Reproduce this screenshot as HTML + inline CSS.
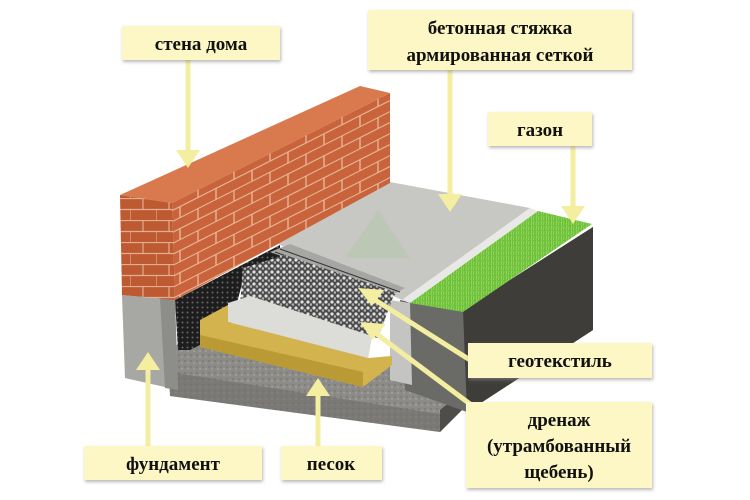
<!DOCTYPE html>
<html><head><meta charset="utf-8"><style>
html,body{margin:0;padding:0;background:#fff;}
svg{display:block}
text{font-family:"Liberation Serif",serif;font-weight:bold;fill:#111;}
</style></head><body>
<svg width="750" height="500" viewBox="0 0 750 500" xmlns="http://www.w3.org/2000/svg">
<defs>
<pattern id="brick" width="36" height="22" patternUnits="userSpaceOnUse" patternTransform="skewY(-26.8)">
<rect width="36" height="22" fill="#c9633b"/>
<path d="M0 0.5H36M0 11.5H36M18 0V11M0 11V22M36 11V22" stroke="#e8b99a" stroke-width="1.3"/>
</pattern>
<pattern id="brick2" width="26" height="22" patternUnits="userSpaceOnUse">
<rect width="26" height="22" fill="#bd5a32"/>
<path d="M0 0.5H26M0 11.5H26M13 0V11M0 11V22" stroke="#e2ad90" stroke-width="1.2"/>
</pattern>
<pattern id="grav" width="6" height="6" patternUnits="userSpaceOnUse">
<rect width="6" height="6" fill="#4a4a4a"/><circle cx="2" cy="2" r="1.6" fill="#e0e0e0"/><circle cx="5" cy="4.5" r="1.3" fill="#b0b0b0"/>
</pattern>
<pattern id="dots" width="5" height="5" patternUnits="userSpaceOnUse">
<rect width="5" height="5" fill="#1d1d1d"/><circle cx="2.5" cy="2.5" r="1" fill="#666"/>
</pattern>
<pattern id="grass" width="5" height="5" patternUnits="userSpaceOnUse">
<rect width="5" height="5" fill="#6cbf3c"/><path d="M1 5L2 0M3.5 5L4 1" stroke="#9bdc5a" stroke-width="0.8"/>
</pattern>
<pattern id="conc" width="6" height="6" patternUnits="userSpaceOnUse">
<rect width="6" height="6" fill="#8c8b87"/><circle cx="2" cy="3" r="0.9" fill="#a8a7a3"/><circle cx="5" cy="1" r="0.7" fill="#6e6d69"/>
</pattern>
<filter id="sh"><feDropShadow dx="1" dy="2" stdDeviation="1.5" flood-color="#888" flood-opacity="0.6"/></filter>
</defs>

<!-- base slab -->
<polygon points="167,350 205,330 470,380 470,402 440,432 170,396" fill="url(#conc)"/>
<polygon points="170,372 440,414 440,432 170,396" fill="#6f6e6a" opacity="0.6"/>
<polygon points="440,410 470,385 470,402 440,432" fill="#4e4d4a"/>
<!-- soil under grass -->
<polygon points="400,300 463,310 593,227 593,330 467,412 405,390" fill="#6a6a66"/>
<polygon points="463,310 593,227 593,330 467,412" fill="#3e3d3a"/>
<!-- concrete slab top -->
<polygon points="278,244 390,182 530,208 402,300" fill="#c7c7c4"/>
<polygon points="402,300 530,208 538,211 410,303" fill="#e8e8e6"/>
<!-- grass -->
<polygon points="410,303 538,211 592,224 463,312" fill="url(#grass)"/>
<!-- column behind -->
<polygon points="390,300 410,303 412,385 390,380" fill="#c4c4c2"/>
<!-- membrane -->
<polygon points="175,300 280,245 280,262 245,272 230,330 190,350 178,350" fill="url(#dots)"/>
<!-- mesh strip -->
<polygon points="270,252 290,244 405,288 390,296" fill="#a6a6a4"/>
<path d="M275 252L395 295M280 249L400 292" stroke="#333" stroke-width="1"/>
<!-- gravel -->
<polygon points="243,268 285,255 395,292 378,338 360,335 240,305" fill="url(#grav)"/>
<!-- sand (white) -->
<polygon points="228,303 250,296 372,336 368,360 228,322" fill="#dcdcd8"/>
<!-- yellow insulation -->
<polygon points="200,320 228,305 228,322 368,358 392,356 392,365 363,387 200,347" fill="#d2b34e"/>
<polygon points="200,335 363,372 363,387 200,347" fill="#b99a35"/>
<!-- foundation -->
<polygon points="122,295 175,300 178,390 125,378" fill="#a7a7a4"/>
<polygon points="160,298 175,300 178,390 165,388" fill="#8d8d8a"/>
<!-- wall -->
<polygon points="172,203 390,93 390,183 175,300" fill="url(#brick)"/>
<polygon points="120,195 360,86 390,93 172,203" fill="#d87a4e"/>
<polygon points="120,195 172,203 175,300 122,295" fill="url(#brick2)"/>

<!-- watermark -->
<polygon points="345,258 378,210 410,258" fill="#9fc98a" opacity="0.25"/>

<!-- arrows -->
<g stroke="#f3eea0" stroke-width="5" fill="#f3eea0">
<line x1="188" y1="60" x2="188" y2="152"/><polygon points="176,150 200,150 188,168" stroke="none"/>
<line x1="450" y1="70" x2="450" y2="196"/><polygon points="438,194 462,194 450,212" stroke="none"/>
<line x1="573" y1="146" x2="573" y2="208"/><polygon points="561,206 585,206 573,224" stroke="none"/>
<line x1="470" y1="360" x2="372" y2="298"/><polygon points="358,288 384,290 372,306" stroke="none"/>
<line x1="470" y1="404" x2="374" y2="332"/><polygon points="360,322 386,324 372,340" stroke="none"/>
<line x1="148" y1="446" x2="148" y2="368"/><polygon points="136,370 160,370 148,352" stroke="none"/>
<line x1="318" y1="446" x2="318" y2="394"/><polygon points="306,396 330,396 318,378" stroke="none"/>
</g>

<!-- labels -->
<g fill="#fcf7c4" filter="url(#sh)">
<rect x="122" y="26" width="158" height="34"/>
<rect x="368" y="10" width="264" height="60"/>
<rect x="488" y="112" width="104" height="34"/>
<rect x="468" y="343" width="184" height="35"/>
<rect x="466" y="402" width="186" height="86"/>
<rect x="84" y="446" width="178" height="34"/>
<rect x="281" y="446" width="101" height="34"/>
</g>
<g font-size="19" text-anchor="middle">
<text x="201" y="50">стена дома</text>
<text x="500" y="34">бетонная стяжка</text>
<text x="500" y="61">армированная сеткой</text>
<text x="540" y="136">газон</text>
<text x="560" y="367">геотекстиль</text>
<text x="559" y="426">дренаж</text>
<text x="559" y="452">(утрамбованный</text>
<text x="559" y="478">щебень)</text>
<text x="173" y="470">фундамент</text>
<text x="331" y="470">песок</text>
</g>
</svg>
</body></html>
